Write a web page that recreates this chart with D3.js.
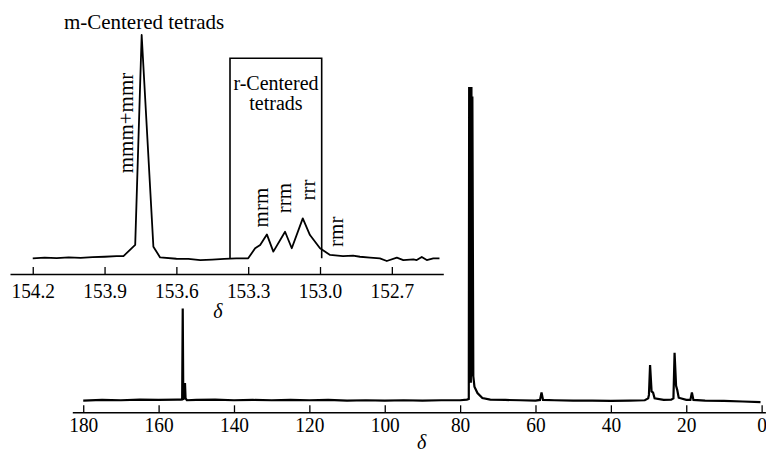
<!DOCTYPE html>
<html>
<head>
<meta charset="utf-8">
<script src="https://cdn.jsdelivr.net/npm/d3@7"></script>
<style>
  body { margin: 0; background: #fff; }
  svg { display: block; background: #fff; }
</style>
</head>
<body>
<svg id="chart"></svg>
<script>
// full 13C spectrum: chemical shift (ppm) and intensity (CDCl3 triplet = 100)
const mainShift = [180, 175, 170, 165, 160, 155, 154.0, 153.75, 153.6, 153.45, 153.1, 153.0, 152.85, 152.5,
  150, 145, 140, 135, 130, 125, 120, 115, 110, 105, 100, 95, 90, 85, 80, 78.2,
  77.7, 77.6, 77.45, 77.3, 77.15, 77.0, 76.85, 76.75, 76.5, 76.2, 75.4, 74.1, 72, 68, 64, 60,
  58.8, 58.4, 58.0, 55, 50, 45, 40, 35, 31, 30.1, 29.9, 29.6, 29.2, 28.8, 28.4,
  26, 24, 23.4, 23.1, 22.7, 22.4, 22.0, 20, 18.9, 18.5, 18.1, 15, 10, 5, 0.3];
const mainIntensity = [0.3, 0.5, 0.4, 0.6, 0.5, 0.6, 0.6, 0.8, 29.6, 0.8, 1.0, 5.9, 1.0, 0.4,
  0.5, 0.6, 0.4, 0.5, 0.4, 0.5, 0.4, 0.5, 0.3, 0.4, 0.3, 0.4, 0.3, 0.4, 0.4, 0.6,
  0.8, 100, 6, 100, 6, 100, 8, 97, 8, 4.7, 2.7, 1.1, 0.6, 0.5, 0.4, 0.3,
  0.5, 2.9, 0.5, 0.4, 0.3, 0.3, 0.2, 0.3, 0.4, 1.0, 2.1, 11.6, 3.2, 2.8, 1.0,
  0.5, 0.6, 1.0, 15.5, 5.0, 3.7, 1.2, 0.5, 0.5, 2.9, 0.5, 0.3, 0.2, 0.0, -0.2];
const mainTicks = [180, 160, 140, 120, 100, 80, 60, 40, 20, 0];

// expanded carbonyl region (inset), intensity relative to mmm+mmr peak = 100
const insetShift = [154.20, 154.15, 154.10, 154.05, 154.00, 153.95, 153.90, 153.85, 153.821, 153.772,
  153.745, 153.696, 153.668, 153.60, 153.55, 153.50, 153.45, 153.40, 153.35, 153.30,
  153.271, 153.250, 153.222, 153.195, 153.146, 153.118, 153.072, 153.042, 153.000, 152.958,
  152.904, 152.862, 152.833, 152.791, 152.750, 152.721, 152.679, 152.652, 152.610, 152.596,
  152.575, 152.554, 152.527, 152.501];
const insetIntensity = [0.0, 0.3, 0.1, 0.4, 0.2, 0.5, 0.7, 1.0, 1.0, 6.0,
  100, 5.2, 0.4, -0.2, -0.3, -0.8, -0.6, -0.3, 0.0, 0.0,
  4.5, 6.0, 10.7, 3.0, 11.9, 4.5, 17.9, 10.4, 4.5, 1.5,
  1.0, 1.2, 0.7, 0.3, 0.0, -1.2, 0.3, -0.8, -0.5, -0.8,
  0.6, -0.8, 0.0, 0.0];
const insetTicks = [154.2, 153.9, 153.6, 153.3, 153.0, 152.7];

// tetrad assignments (rotated labels)
const tetradNames = ["mmm+mmr", "mrm", "rrm", "rrr", "rmr"];
const tetradShift = [153.780, 153.217, 153.121, 153.023, 152.904];
const tetradLevel = [60.6, 22.7, 27.0, 30.6, 11.9];

// r-centered tetrads box
const boxShift = [153.376, 152.993];
const boxTop = 89.6;

const FONT = "'Liberation Serif', Tinos, 'Times New Roman', 'DejaVu Serif', serif";
const width = 766, height = 454;
const svg = d3.select("#chart").attr("width", width).attr("height", height)
  .attr("font-family", FONT);

const line = (x, y) => d3.line().x(d => x(d[0])).y(d => y(d[1]));

// ---------- main spectrum ----------
const xMain = d3.scaleLinear().domain([182.9, -1]).range([72.3, 765.4]);
const yMain = d3.scaleLinear().domain([0, 100]).range([401.5, 87]);
const mainAxisY = 412.3;

svg.append("path")
  .datum(d3.zip(mainShift, mainIntensity))
  .attr("fill", "none")
  .attr("stroke", "#000")
  .attr("stroke-width", 2.2)
  .attr("d", line(xMain, yMain));

const gMain = svg.append("g")
  .attr("transform", `translate(0,${mainAxisY})`)
  .call(d3.axisBottom(xMain).tickValues(mainTicks).tickFormat(d3.format("d"))
    .tickSizeInner(-7).tickSizeOuter(0).tickPadding(4));

// ---------- inset ----------
const xIn = d3.scaleLinear().domain([154.295, 152.485]).range([10, 443.3]);
const yIn = d3.scaleLinear().domain([0, 100]).range([258.3, 35]);
const insetAxisY = 274;

svg.append("path")
  .datum(d3.zip(insetShift, insetIntensity))
  .attr("fill", "none")
  .attr("stroke", "#000")
  .attr("stroke-width", 1.8)
  .attr("stroke-linejoin", "round")
  .attr("d", line(xIn, yIn));

const gIn = svg.append("g")
  .attr("transform", `translate(0,${insetAxisY})`)
  .call(d3.axisBottom(xIn).tickValues(insetTicks).tickFormat(d3.format(".1f"))
    .tickSizeInner(-7).tickSizeOuter(0).tickPadding(8));

// axis styling for both
[gMain, gIn].forEach(g => {
  g.attr("font-family", FONT).attr("font-size", 22);
  g.select(".domain").attr("stroke", "#000").attr("stroke-width", 1.6);
  g.selectAll(".tick line").attr("stroke", "#000").attr("stroke-width", 1.3);
  g.selectAll(".tick text")
    .attr("fill", "#000")
    .attr("transform", "scale(0.88,1)");
});

// box around r-centred tetrads (no bottom edge)
svg.append("path")
  .attr("fill", "none")
  .attr("stroke", "#000")
  .attr("stroke-width", 1.6)
  .attr("d", `M${xIn(boxShift[0])},${yIn(0)}V${yIn(boxTop)}H${xIn(boxShift[1])}V${yIn(0)}`);

// titles
const label = (x, y, s, size) => svg.append("text")
  .attr("x", x).attr("y", y)
  .attr("text-anchor", "middle")
  .attr("font-size", size)
  .text(s);

label(xIn(153.735), yIn(102.7), "m-Centered tetrads", 21);
label(xIn(153.184), yIn(75.3), "r-Centered", 20);
label(xIn(153.184), yIn(66.2), "tetrads", 20);

// rotated tetrad labels
svg.selectAll("text.tetrad")
  .data(tetradNames)
  .join("text")
  .attr("class", "tetrad")
  .attr("text-anchor", "middle")
  .attr("font-size", 21)
  .attr("transform", (d, i) => `translate(${xIn(tetradShift[i])},${yIn(tetradLevel[i])}) rotate(-90)`)
  .text(d => d);

// axis titles
label(218, 318, "δ", 20).attr("font-style", "italic");
label(421.7, 449, "δ", 20).attr("font-style", "italic");
</script>
</body>
</html>
